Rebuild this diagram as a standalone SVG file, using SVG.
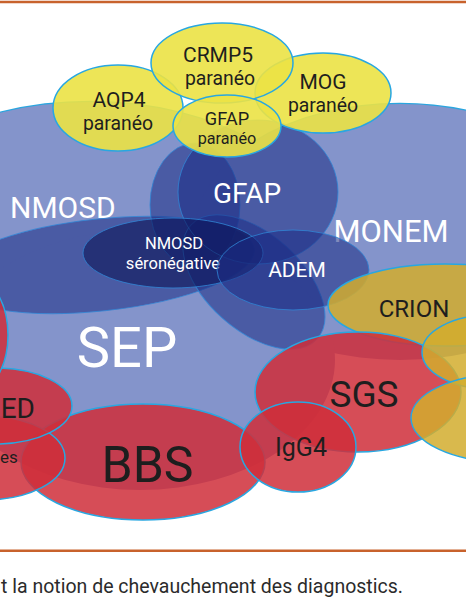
<svg xmlns="http://www.w3.org/2000/svg" width="466" height="600" viewBox="0 0 466 600">
<style>
text{font-family:Roboto,"Liberation Sans",Arial,sans-serif;}
.lb{fill:#8494cb;}
.lbo{fill:none;stroke:#2aa6df;stroke-width:2.4;}
.dk{fill:#1b2b85;fill-opacity:.55;stroke:#2f86d6;stroke-width:1;stroke-opacity:.8;}
.sero{fill:#0e1658;fill-opacity:.6;stroke:#2f86d6;stroke-width:1;stroke-opacity:.8;}
.yl{fill:#ebe245;fill-opacity:.9;stroke:#28a7e1;stroke-width:1.5;}
.mu{fill:#d2ad2e;fill-opacity:.85;stroke:#28a7e1;stroke-width:1.5;}
.rd{fill:#cf2e3a;fill-opacity:.85;stroke:#28a7e1;stroke-width:1.5;}
.w{fill:#ffffff;text-anchor:middle;}
.b{fill:#1e1e1e;text-anchor:middle;}
.rule{stroke:#c8622c;stroke-width:2.6;}
</style>
<defs>
<clipPath id="topclip"><rect x="0" y="0" width="466" height="200"/></clipPath>
<ellipse id="e-nmosd" cx="90" cy="250" rx="240" ry="148"/>
<ellipse id="e-monem" cx="400" cy="232" rx="205" ry="128"/>
</defs>

<line class="rule" x1="0" y1="2" x2="466" y2="2"/>

<g id="outlines" class="lbo" clip-path="url(#topclip)">
<use href="#e-nmosd"/>
<use href="#e-monem"/>
</g>

<g id="nmosd">
<use href="#e-nmosd" class="lb"/>
<text x="10" y="218" font-size="30" fill="#ffffff">NMOSD</text>
</g>
<g id="monem">
<use href="#e-monem" class="lb"/>
<text class="w" x="391" y="242" font-size="31">MONEM</text>
</g>
<g id="sep">
<ellipse class="lb" cx="140" cy="360" rx="195" ry="130"/>
<text class="w" x="127" y="367" font-size="56">SEP</text>
</g>

<g id="nmosd-dark">
<ellipse class="dk" cx="100" cy="265" rx="155" ry="46" transform="rotate(-6 100 265)"/>
</g>
<g id="gfap-left">
<ellipse class="dk" cx="195" cy="205" rx="45" ry="62"/>
</g>
<g id="gfap-lobe">
<ellipse class="dk" cx="254" cy="282" rx="85" ry="48" transform="rotate(42 254 282)"/>
</g>
<g id="gfap">
<ellipse class="dk" cx="258" cy="192" rx="80" ry="72"/>
<text class="w" x="247" y="203" font-size="28">GFAP</text>
</g>
<g id="nmosd-seroneg">
<ellipse class="sero" cx="173" cy="253" rx="90" ry="35"/>
<text class="w" x="174" y="248.5" font-size="16.5">NMOSD</text>
<text class="w" x="173" y="269" font-size="16.5">séronégative</text>
</g>
<g id="adem">
<ellipse class="dk" cx="293" cy="270" rx="76" ry="40"/>
<text class="w" x="297" y="277" font-size="21">ADEM</text>
</g>

<g id="aqp4">
<ellipse class="yl" cx="118" cy="108" rx="65" ry="43"/>
<text class="b" x="119" y="107" font-size="21">AQP4</text>
<text class="b" x="118" y="129.5" font-size="19.4">paranéo</text>
</g>
<g id="mog">
<ellipse class="yl" cx="323" cy="93" rx="68" ry="40"/>
<text class="b" x="323" y="89" font-size="21">MOG</text>
<text class="b" x="323" y="111.5" font-size="19.4">paranéo</text>
</g>
<g id="crmp5">
<ellipse class="yl" cx="222" cy="63" rx="71" ry="40"/>
<text class="b" x="218" y="62" font-size="21">CRMP5</text>
<text class="b" x="220" y="84.5" font-size="19.4">paranéo</text>
</g>
<g id="gfap-para">
<ellipse class="yl" cx="227" cy="126" rx="54" ry="31"/>
<text class="b" x="227" y="125" font-size="18.2">GFAP</text>
<text class="b" x="227" y="144" font-size="16.2">paranéo</text>
</g>

<g id="crion">
<ellipse class="mu" cx="445" cy="305" rx="117" ry="41"/>
<text class="b" x="414" y="317" font-size="24">CRION</text>
</g>
<g id="sgs">
<ellipse class="rd" cx="358" cy="392" rx="103" ry="60"/>
<text class="b" x="364" y="407" font-size="37">SGS</text>
</g>
<g id="right-1">
<ellipse class="mu" cx="490" cy="352" rx="68" ry="37"/>
</g>
<g id="right-2">
<ellipse class="mu" cx="505" cy="418" rx="94" ry="44"/>
</g>
<g id="bbs">
<ellipse class="rd" cx="143" cy="462" rx="122" ry="58"/>
<text class="b" x="147.5" y="482" font-size="50">BBS</text>
</g>
<g id="es">
<ellipse class="rd" cx="-15" cy="458" rx="80" ry="42"/>
<text x="0" y="463" font-size="17" fill="#1e1e1e">es</text>
</g>
<g id="ed">
<ellipse class="rd" cx="-5" cy="406" rx="77" ry="38"/>
<text x="35" y="418" font-size="28" fill="#1e1e1e" text-anchor="end">ED</text>
</g>
<g id="left-red">
<ellipse class="rd" cx="-30" cy="335" rx="38" ry="60"/>
</g>
<g id="igg4">
<ellipse class="rd" cx="298" cy="447" rx="58" ry="45"/>
<text class="b" x="301" y="456" font-size="25">IgG4</text>
</g>

<g id="connectors"/>

<line class="rule" x1="0" y1="550.7" x2="466" y2="550.7"/>
<text x="1" y="593" font-size="19.5" fill="#2b2b2b">t la notion de chevauchement des diagnostics.</text>
</svg>
